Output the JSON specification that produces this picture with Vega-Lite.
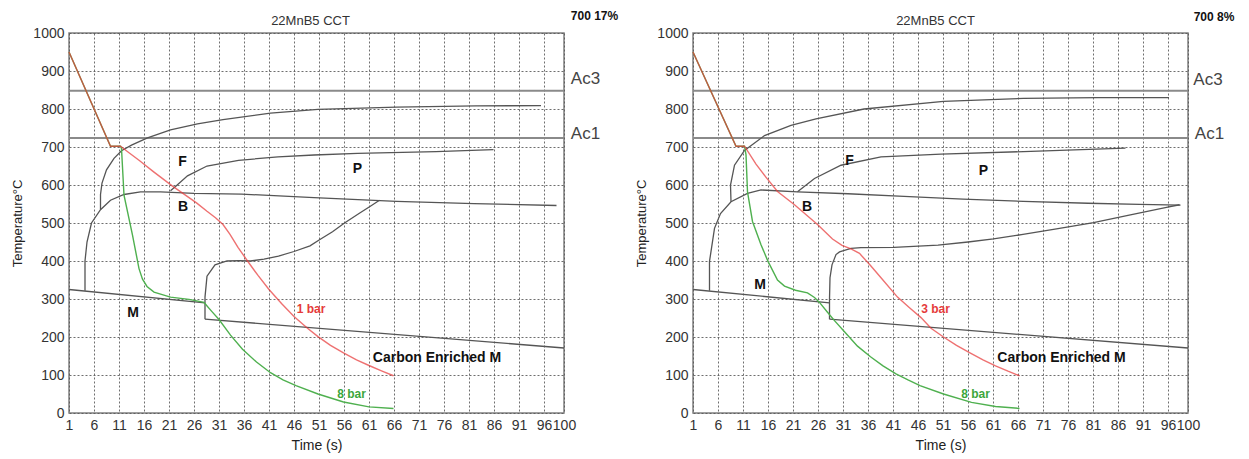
{
"$schema": "https://vega.github.io/schema/vega-lite/v6.json",
"padding": {"left": 11, "top": 9, "right": 5, "bottom": 3},
"bounds": "flush",
"spacing": 129,
"config": {
  "font": "Liberation Sans",
  "view": {"stroke": "#808080", "strokeWidth": 1.5},
  "axis": {"grid": true, "gridColor": "#555", "gridDash": [2, 2], "gridWidth": 1, "gridOpacity": 0.85, "ticks": false, "tickSize": 0, "domain": false, "labelFontSize": 14, "labelColor": "#333", "labelPadding": 5, "labelOverlap": false, "labelFlush": false, "titleFontSize": 14, "titleFontWeight": "normal", "titleColor": "#222"}
},
"datasets": {
"lines": [
{"p":"L","s":"ac3","c":"a","i":0,"x":1,"y":848},{"p":"L","s":"ac3","c":"a","i":1,"x":100,"y":848},
{"p":"L","s":"ac1","c":"a","i":0,"x":1,"y":724},{"p":"L","s":"ac1","c":"a","i":1,"x":100,"y":724},
{"p":"R","s":"ac3","c":"a","i":0,"x":1,"y":848},{"p":"R","s":"ac3","c":"a","i":1,"x":100,"y":848},
{"p":"R","s":"ac1","c":"a","i":0,"x":1,"y":724},{"p":"R","s":"ac1","c":"a","i":1,"x":100,"y":724},

{"p":"L","s":"fs","c":"k","i":0,"x":7.3,"y":536},{"p":"L","s":"fs","c":"k","i":1,"x":7.3,"y":575},{"p":"L","s":"fs","c":"k","i":2,"x":7.6,"y":605},{"p":"L","s":"fs","c":"k","i":3,"x":8.5,"y":640},{"p":"L","s":"fs","c":"k","i":4,"x":10,"y":670},{"p":"L","s":"fs","c":"k","i":5,"x":11.5,"y":690},{"p":"L","s":"fs","c":"k","i":6,"x":13.5,"y":705},{"p":"L","s":"fs","c":"k","i":7,"x":16.7,"y":724},{"p":"L","s":"fs","c":"k","i":8,"x":21.3,"y":745},{"p":"L","s":"fs","c":"k","i":9,"x":26.7,"y":761},{"p":"L","s":"fs","c":"k","i":10,"x":31.8,"y":772},{"p":"L","s":"fs","c":"k","i":11,"x":41.3,"y":789},{"p":"L","s":"fs","c":"k","i":12,"x":50.8,"y":799},{"p":"L","s":"fs","c":"k","i":13,"x":66.5,"y":805},{"p":"L","s":"fs","c":"k","i":14,"x":82.4,"y":808},{"p":"L","s":"fs","c":"k","i":15,"x":95.4,"y":809},

{"p":"L","s":"bs","c":"k","i":0,"x":4.2,"y":322},{"p":"L","s":"bs","c":"k","i":1,"x":4.2,"y":400},{"p":"L","s":"bs","c":"k","i":2,"x":4.6,"y":450},{"p":"L","s":"bs","c":"k","i":3,"x":5.5,"y":500},{"p":"L","s":"bs","c":"k","i":4,"x":7.3,"y":535},{"p":"L","s":"bs","c":"k","i":5,"x":9.3,"y":560},{"p":"L","s":"bs","c":"k","i":6,"x":12,"y":575},{"p":"L","s":"bs","c":"k","i":7,"x":15.3,"y":582},{"p":"L","s":"bs","c":"k","i":8,"x":19.3,"y":582},{"p":"L","s":"bs","c":"k","i":9,"x":26,"y":578},{"p":"L","s":"bs","c":"k","i":10,"x":35.5,"y":576},{"p":"L","s":"bs","c":"k","i":11,"x":50,"y":567},{"p":"L","s":"bs","c":"k","i":12,"x":66.5,"y":557},{"p":"L","s":"bs","c":"k","i":13,"x":82,"y":551},{"p":"L","s":"bs","c":"k","i":14,"x":98.5,"y":546},

{"p":"L","s":"ps","c":"k","i":0,"x":21.3,"y":585},{"p":"L","s":"ps","c":"k","i":1,"x":22.3,"y":596},{"p":"L","s":"ps","c":"k","i":2,"x":24.7,"y":624},{"p":"L","s":"ps","c":"k","i":3,"x":28.6,"y":650},{"p":"L","s":"ps","c":"k","i":4,"x":34.9,"y":665},{"p":"L","s":"ps","c":"k","i":5,"x":42.8,"y":674},{"p":"L","s":"ps","c":"k","i":6,"x":50,"y":679},{"p":"L","s":"ps","c":"k","i":7,"x":58.7,"y":683},{"p":"L","s":"ps","c":"k","i":8,"x":74.4,"y":688},{"p":"L","s":"ps","c":"k","i":9,"x":85.9,"y":693},

{"p":"L","s":"bl","c":"k","i":0,"x":28.2,"y":247},{"p":"L","s":"bl","c":"k","i":1,"x":28.2,"y":305},{"p":"L","s":"bl","c":"k","i":2,"x":28.6,"y":360},{"p":"L","s":"bl","c":"k","i":3,"x":30.2,"y":390},{"p":"L","s":"bl","c":"k","i":4,"x":32.6,"y":400},{"p":"L","s":"bl","c":"k","i":5,"x":35,"y":401},{"p":"L","s":"bl","c":"k","i":6,"x":37.3,"y":400},{"p":"L","s":"bl","c":"k","i":7,"x":40,"y":405},{"p":"L","s":"bl","c":"k","i":8,"x":42.9,"y":413},{"p":"L","s":"bl","c":"k","i":9,"x":46,"y":425},{"p":"L","s":"bl","c":"k","i":10,"x":49.2,"y":440},{"p":"L","s":"bl","c":"k","i":11,"x":51.1,"y":456},{"p":"L","s":"bl","c":"k","i":12,"x":53.7,"y":477},{"p":"L","s":"bl","c":"k","i":13,"x":56.1,"y":500},{"p":"L","s":"bl","c":"k","i":14,"x":59,"y":525},{"p":"L","s":"bl","c":"k","i":15,"x":61.5,"y":546},{"p":"L","s":"bl","c":"k","i":16,"x":63.1,"y":560},

{"p":"L","s":"m","c":"k","i":0,"x":1,"y":325},{"p":"L","s":"m","c":"k","i":1,"x":28.2,"y":290},
{"p":"L","s":"cem","c":"k","i":0,"x":28.2,"y":247},{"p":"L","s":"cem","c":"k","i":1,"x":100,"y":171},

{"p":"L","s":"g8","c":"g","i":0,"x":1,"y":950},{"p":"L","s":"g8","c":"g","i":1,"x":9.3,"y":702},{"p":"L","s":"g8","c":"g","i":2,"x":11.3,"y":702},{"p":"L","s":"g8","c":"g","i":3,"x":11.5,"y":696},{"p":"L","s":"g8","c":"g","i":4,"x":12,"y":573},{"p":"L","s":"g8","c":"g","i":5,"x":13.7,"y":468},{"p":"L","s":"g8","c":"g","i":6,"x":15,"y":380},{"p":"L","s":"g8","c":"g","i":7,"x":15.7,"y":352},{"p":"L","s":"g8","c":"g","i":8,"x":16.6,"y":333},{"p":"L","s":"g8","c":"g","i":9,"x":18,"y":318},{"p":"L","s":"g8","c":"g","i":10,"x":21.3,"y":305},{"p":"L","s":"g8","c":"g","i":11,"x":25,"y":299},{"p":"L","s":"g8","c":"g","i":12,"x":28,"y":291},{"p":"L","s":"g8","c":"g","i":13,"x":29.5,"y":268},{"p":"L","s":"g8","c":"g","i":14,"x":31,"y":246},{"p":"L","s":"g8","c":"g","i":15,"x":33.3,"y":205},{"p":"L","s":"g8","c":"g","i":16,"x":35.7,"y":168},{"p":"L","s":"g8","c":"g","i":17,"x":38.5,"y":134},{"p":"L","s":"g8","c":"g","i":18,"x":41.3,"y":106},{"p":"L","s":"g8","c":"g","i":19,"x":43.8,"y":87},{"p":"L","s":"g8","c":"g","i":20,"x":46.4,"y":72},{"p":"L","s":"g8","c":"g","i":21,"x":50.8,"y":50},{"p":"L","s":"g8","c":"g","i":22,"x":55.9,"y":29},{"p":"L","s":"g8","c":"g","i":23,"x":61,"y":16},{"p":"L","s":"g8","c":"g","i":24,"x":65.9,"y":12},

{"p":"L","s":"r","c":"r","i":0,"x":1,"y":950},{"p":"L","s":"r","c":"r","i":1,"x":9.3,"y":702},{"p":"L","s":"r","c":"r","i":2,"x":11.3,"y":702},{"p":"L","s":"r","c":"r","i":3,"x":12.8,"y":687},{"p":"L","s":"r","c":"r","i":4,"x":15,"y":665},{"p":"L","s":"r","c":"r","i":5,"x":18,"y":634},{"p":"L","s":"r","c":"r","i":6,"x":21.7,"y":597},{"p":"L","s":"r","c":"r","i":7,"x":24,"y":576},{"p":"L","s":"r","c":"r","i":8,"x":26.5,"y":553},{"p":"L","s":"r","c":"r","i":9,"x":28.6,"y":531},{"p":"L","s":"r","c":"r","i":10,"x":30.3,"y":514},{"p":"L","s":"r","c":"r","i":11,"x":31.8,"y":496},{"p":"L","s":"r","c":"r","i":12,"x":33.2,"y":470},{"p":"L","s":"r","c":"r","i":13,"x":34.8,"y":436},{"p":"L","s":"r","c":"r","i":14,"x":36.7,"y":400},{"p":"L","s":"r","c":"r","i":15,"x":38.8,"y":362},{"p":"L","s":"r","c":"r","i":16,"x":41,"y":325},{"p":"L","s":"r","c":"r","i":17,"x":43.5,"y":288},{"p":"L","s":"r","c":"r","i":18,"x":46,"y":254},{"p":"L","s":"r","c":"r","i":19,"x":48.7,"y":223},{"p":"L","s":"r","c":"r","i":20,"x":50.8,"y":201},{"p":"L","s":"r","c":"r","i":21,"x":53.3,"y":178},{"p":"L","s":"r","c":"r","i":22,"x":55.9,"y":158},{"p":"L","s":"r","c":"r","i":23,"x":58.5,"y":140},{"p":"L","s":"r","c":"r","i":24,"x":61,"y":125},{"p":"L","s":"r","c":"r","i":25,"x":63.5,"y":111},{"p":"L","s":"r","c":"r","i":26,"x":65.9,"y":98},

{"p":"R","s":"fs","c":"k","i":0,"x":8.6,"y":556},{"p":"R","s":"fs","c":"k","i":1,"x":8.5,"y":600},{"p":"R","s":"fs","c":"k","i":2,"x":9.3,"y":652},{"p":"R","s":"fs","c":"k","i":3,"x":11.3,"y":691},{"p":"R","s":"fs","c":"k","i":4,"x":15.3,"y":730},{"p":"R","s":"fs","c":"k","i":5,"x":20.6,"y":757},{"p":"R","s":"fs","c":"k","i":6,"x":25.6,"y":774},{"p":"R","s":"fs","c":"k","i":7,"x":35.2,"y":800},{"p":"R","s":"fs","c":"k","i":8,"x":51.1,"y":820},{"p":"R","s":"fs","c":"k","i":9,"x":67.1,"y":828},{"p":"R","s":"fs","c":"k","i":10,"x":82,"y":830},{"p":"R","s":"fs","c":"k","i":11,"x":96.2,"y":830},

{"p":"R","s":"bs","c":"k","i":0,"x":4.3,"y":322},{"p":"R","s":"bs","c":"k","i":1,"x":4.3,"y":399},{"p":"R","s":"bs","c":"k","i":2,"x":5.3,"y":486},{"p":"R","s":"bs","c":"k","i":3,"x":6.5,"y":525},{"p":"R","s":"bs","c":"k","i":4,"x":8.6,"y":556},{"p":"R","s":"bs","c":"k","i":5,"x":11.9,"y":578},{"p":"R","s":"bs","c":"k","i":6,"x":14.6,"y":587},{"p":"R","s":"bs","c":"k","i":7,"x":21.9,"y":582},{"p":"R","s":"bs","c":"k","i":8,"x":32,"y":577},{"p":"R","s":"bs","c":"k","i":9,"x":43.2,"y":570},{"p":"R","s":"bs","c":"k","i":10,"x":55,"y":563},{"p":"R","s":"bs","c":"k","i":11,"x":67.1,"y":557},{"p":"R","s":"bs","c":"k","i":12,"x":80,"y":552},{"p":"R","s":"bs","c":"k","i":13,"x":90.3,"y":549},{"p":"R","s":"bs","c":"k","i":14,"x":98.5,"y":547},

{"p":"R","s":"ps","c":"k","i":0,"x":21.9,"y":582},{"p":"R","s":"ps","c":"k","i":1,"x":25.3,"y":617},{"p":"R","s":"ps","c":"k","i":2,"x":30.6,"y":652},{"p":"R","s":"ps","c":"k","i":3,"x":38.6,"y":674},{"p":"R","s":"ps","c":"k","i":4,"x":50.6,"y":681},{"p":"R","s":"ps","c":"k","i":5,"x":67.1,"y":688},{"p":"R","s":"ps","c":"k","i":6,"x":87.5,"y":697},

{"p":"R","s":"bl","c":"k","i":0,"x":28.3,"y":247},{"p":"R","s":"bl","c":"k","i":1,"x":28.3,"y":300},{"p":"R","s":"bl","c":"k","i":2,"x":28.4,"y":356},{"p":"R","s":"bl","c":"k","i":3,"x":28.8,"y":390},{"p":"R","s":"bl","c":"k","i":4,"x":29.6,"y":417},{"p":"R","s":"bl","c":"k","i":5,"x":30.3,"y":424},{"p":"R","s":"bl","c":"k","i":6,"x":32.6,"y":433},{"p":"R","s":"bl","c":"k","i":7,"x":34.6,"y":435},{"p":"R","s":"bl","c":"k","i":8,"x":41.2,"y":436},{"p":"R","s":"bl","c":"k","i":9,"x":50,"y":442},{"p":"R","s":"bl","c":"k","i":10,"x":56,"y":450},{"p":"R","s":"bl","c":"k","i":11,"x":61.1,"y":458},{"p":"R","s":"bl","c":"k","i":12,"x":67,"y":470},{"p":"R","s":"bl","c":"k","i":13,"x":74,"y":485},{"p":"R","s":"bl","c":"k","i":14,"x":81.1,"y":501},{"p":"R","s":"bl","c":"k","i":15,"x":88,"y":520},{"p":"R","s":"bl","c":"k","i":16,"x":95.7,"y":541},{"p":"R","s":"bl","c":"k","i":17,"x":98.3,"y":548},

{"p":"R","s":"m","c":"k","i":0,"x":1,"y":325},{"p":"R","s":"m","c":"k","i":1,"x":28.3,"y":290},
{"p":"R","s":"cem","c":"k","i":0,"x":28.3,"y":247},{"p":"R","s":"cem","c":"k","i":1,"x":100,"y":171},

{"p":"R","s":"g8","c":"g","i":0,"x":1,"y":950},{"p":"R","s":"g8","c":"g","i":1,"x":9.6,"y":702},{"p":"R","s":"g8","c":"g","i":2,"x":11.3,"y":702},{"p":"R","s":"g8","c":"g","i":3,"x":11.6,"y":680},{"p":"R","s":"g8","c":"g","i":4,"x":11.9,"y":582},{"p":"R","s":"g8","c":"g","i":5,"x":12.9,"y":504},{"p":"R","s":"g8","c":"g","i":6,"x":14.6,"y":443},{"p":"R","s":"g8","c":"g","i":7,"x":16,"y":399},{"p":"R","s":"g8","c":"g","i":8,"x":17.9,"y":350},{"p":"R","s":"g8","c":"g","i":9,"x":19.3,"y":334},{"p":"R","s":"g8","c":"g","i":10,"x":21.5,"y":323},{"p":"R","s":"g8","c":"g","i":11,"x":23.9,"y":316},{"p":"R","s":"g8","c":"g","i":12,"x":25.3,"y":304},{"p":"R","s":"g8","c":"g","i":13,"x":26.3,"y":291},{"p":"R","s":"g8","c":"g","i":14,"x":27.9,"y":265},{"p":"R","s":"g8","c":"g","i":15,"x":29.3,"y":243},{"p":"R","s":"g8","c":"g","i":16,"x":31.3,"y":214},{"p":"R","s":"g8","c":"g","i":17,"x":33.9,"y":176},{"p":"R","s":"g8","c":"g","i":18,"x":36.5,"y":148},{"p":"R","s":"g8","c":"g","i":19,"x":39,"y":124},{"p":"R","s":"g8","c":"g","i":20,"x":41.6,"y":103},{"p":"R","s":"g8","c":"g","i":21,"x":44,"y":87},{"p":"R","s":"g8","c":"g","i":22,"x":46.4,"y":72},{"p":"R","s":"g8","c":"g","i":23,"x":51.1,"y":50},{"p":"R","s":"g8","c":"g","i":24,"x":56.7,"y":28},{"p":"R","s":"g8","c":"g","i":25,"x":61.5,"y":17},{"p":"R","s":"g8","c":"g","i":26,"x":66.3,"y":12},

{"p":"R","s":"r","c":"r","i":0,"x":1,"y":950},{"p":"R","s":"r","c":"r","i":1,"x":9.6,"y":702},{"p":"R","s":"r","c":"r","i":2,"x":11.3,"y":702},{"p":"R","s":"r","c":"r","i":3,"x":13.6,"y":655},{"p":"R","s":"r","c":"r","i":4,"x":15.5,"y":622},{"p":"R","s":"r","c":"r","i":5,"x":17.9,"y":583},{"p":"R","s":"r","c":"r","i":6,"x":21.3,"y":548},{"p":"R","s":"r","c":"r","i":7,"x":25.9,"y":496},{"p":"R","s":"r","c":"r","i":8,"x":28.9,"y":458},{"p":"R","s":"r","c":"r","i":9,"x":30.8,"y":441},{"p":"R","s":"r","c":"r","i":10,"x":32.6,"y":432},{"p":"R","s":"r","c":"r","i":11,"x":34.3,"y":420},{"p":"R","s":"r","c":"r","i":12,"x":36.5,"y":388},{"p":"R","s":"r","c":"r","i":13,"x":38.6,"y":356},{"p":"R","s":"r","c":"r","i":14,"x":41.9,"y":305},{"p":"R","s":"r","c":"r","i":15,"x":44.3,"y":277},{"p":"R","s":"r","c":"r","i":16,"x":46.6,"y":251},{"p":"R","s":"r","c":"r","i":17,"x":48.6,"y":223},{"p":"R","s":"r","c":"r","i":18,"x":51.1,"y":200},{"p":"R","s":"r","c":"r","i":19,"x":53.7,"y":178},{"p":"R","s":"r","c":"r","i":20,"x":56.3,"y":159},{"p":"R","s":"r","c":"r","i":21,"x":59,"y":140},{"p":"R","s":"r","c":"r","i":22,"x":61.5,"y":124},{"p":"R","s":"r","c":"r","i":23,"x":64,"y":110},{"p":"R","s":"r","c":"r","i":24,"x":66.3,"y":98}
],
"labels": [
{"p":"L","k":"title","t":"22MnB5 CCT","x":49.3,"y":1031},
{"p":"L","k":"ph","t":"F","x":23.7,"y":660},
{"p":"L","k":"ph","t":"B","x":23.8,"y":542},
{"p":"L","k":"ph","t":"M","x":13.8,"y":264},
{"p":"L","k":"ph","t":"P","x":58.7,"y":641},
{"p":"L","k":"ph","t":"Carbon Enriched M","x":74.6,"y":146},
{"p":"L","k":"r","t":"1 bar","x":49.4,"y":273},
{"p":"L","k":"g","t":"8 bar","x":57.5,"y":50},
{"p":"L","k":"ac","t":"Ac3","x":104.3,"y":878},
{"p":"L","k":"ac","t":"Ac1","x":104.3,"y":735},
{"p":"L","k":"note","t":"700 17%","x":106.1,"y":1044},
{"p":"R","k":"title","t":"22MnB5 CCT","x":49.5,"y":1031},
{"p":"R","k":"ph","t":"F","x":32.3,"y":662},
{"p":"R","k":"ph","t":"B","x":23.8,"y":543},
{"p":"R","k":"ph","t":"M","x":14.4,"y":336},
{"p":"R","k":"ph","t":"P","x":59.1,"y":636},
{"p":"R","k":"ph","t":"Carbon Enriched M","x":74.7,"y":146},
{"p":"R","k":"r","t":"3 bar","x":49.5,"y":273},
{"p":"R","k":"g","t":"8 bar","x":57.5,"y":50},
{"p":"R","k":"ac","t":"Ac3","x":104,"y":876},
{"p":"R","k":"ac","t":"Ac1","x":104.3,"y":735},
{"p":"R","k":"note","t":"700 8%","x":105.2,"y":1041}
]
},
"hconcat": [
{
 "width": 495, "height": 380,
 "encoding": {
   "x": {"field": "x", "type": "quantitative", "scale": {"domain": [1, 100], "nice": false, "zero": false}, "axis": {"title": "Time (s)", "values": [1,6,11,16,21,26,31,36,41,46,51,56,61,66,71,76,81,86,91,96,100], "format": "d", "titlePadding": 6}},
   "y": {"field": "y", "type": "quantitative", "scale": {"domain": [0, 1000], "nice": false}, "axis": {"title": "Temperature°C", "values": [0,100,200,300,400,500,600,700,800,900,1000], "format": "d", "titleFontSize": 13, "titlePadding": 8}}
 },
 "layer": [
  {"data": {"name": "lines"}, "transform": [{"filter": "datum.p == 'L' && datum.c == 'a'"}], "mark": {"type": "line", "color": "#8a8a8a", "strokeWidth": 2}, "encoding": {"detail": {"field": "s"}, "order": {"field": "i", "type": "quantitative"}}},
  {"data": {"name": "lines"}, "transform": [{"filter": "datum.p == 'L' && datum.c == 'k'"}], "mark": {"type": "line", "color": "#555", "strokeWidth": 1.3}, "encoding": {"detail": {"field": "s"}, "order": {"field": "i", "type": "quantitative"}}},
  {"data": {"name": "lines"}, "transform": [{"filter": "datum.p == 'L' && datum.c == 'g'"}], "mark": {"type": "line", "color": "#4fb04f", "strokeWidth": 1.4}, "encoding": {"detail": {"field": "s"}, "order": {"field": "i", "type": "quantitative"}}},
  {"data": {"name": "lines"}, "transform": [{"filter": "datum.p == 'L' && datum.c == 'r'"}], "mark": {"type": "line", "color": "#e83a3a", "strokeWidth": 1.4, "opacity": 0.72}, "encoding": {"detail": {"field": "s"}, "order": {"field": "i", "type": "quantitative"}}},
  {"data": {"name": "labels"}, "transform": [{"filter": "datum.p == 'L' && datum.k == 'title'"}], "mark": {"type": "text", "fontSize": 13, "color": "#333", "align": "center", "baseline": "middle"}, "encoding": {"text": {"field": "t"}}},
  {"data": {"name": "labels"}, "transform": [{"filter": "datum.p == 'L' && datum.k == 'ph'"}], "mark": {"type": "text", "fontSize": 14, "fontWeight": "bold", "color": "#111", "align": "center", "baseline": "middle"}, "encoding": {"text": {"field": "t"}}},
  {"data": {"name": "labels"}, "transform": [{"filter": "datum.p == 'L' && datum.k == 'r'"}], "mark": {"type": "text", "fontSize": 12, "fontWeight": "bold", "color": "#e53b3b", "align": "center", "baseline": "middle"}, "encoding": {"text": {"field": "t"}}},
  {"data": {"name": "labels"}, "transform": [{"filter": "datum.p == 'L' && datum.k == 'g'"}], "mark": {"type": "text", "fontSize": 12, "fontWeight": "bold", "color": "#3ca63c", "align": "center", "baseline": "middle"}, "encoding": {"text": {"field": "t"}}},
  {"data": {"name": "labels"}, "transform": [{"filter": "datum.p == 'L' && datum.k == 'ac'"}], "mark": {"type": "text", "fontSize": 17, "color": "#444", "align": "center", "baseline": "middle"}, "encoding": {"text": {"field": "t"}}},
  {"data": {"name": "labels"}, "transform": [{"filter": "datum.p == 'L' && datum.k == 'note'"}], "mark": {"type": "text", "fontSize": 12, "fontWeight": "bold", "color": "#111", "align": "center", "baseline": "middle"}, "encoding": {"text": {"field": "t"}}}
 ]
},
{
 "width": 495, "height": 380,
 "encoding": {
   "x": {"field": "x", "type": "quantitative", "scale": {"domain": [1, 100], "nice": false, "zero": false}, "axis": {"title": "Time (s)", "values": [1,6,11,16,21,26,31,36,41,46,51,56,61,66,71,76,81,86,91,96,100], "format": "d", "titlePadding": 6}},
   "y": {"field": "y", "type": "quantitative", "scale": {"domain": [0, 1000], "nice": false}, "axis": {"title": "Temperature°C", "values": [0,100,200,300,400,500,600,700,800,900,1000], "format": "d", "titleFontSize": 13, "titlePadding": 8}}
 },
 "layer": [
  {"data": {"name": "lines"}, "transform": [{"filter": "datum.p == 'R' && datum.c == 'a'"}], "mark": {"type": "line", "color": "#8a8a8a", "strokeWidth": 2}, "encoding": {"detail": {"field": "s"}, "order": {"field": "i", "type": "quantitative"}}},
  {"data": {"name": "lines"}, "transform": [{"filter": "datum.p == 'R' && datum.c == 'k'"}], "mark": {"type": "line", "color": "#555", "strokeWidth": 1.3}, "encoding": {"detail": {"field": "s"}, "order": {"field": "i", "type": "quantitative"}}},
  {"data": {"name": "lines"}, "transform": [{"filter": "datum.p == 'R' && datum.c == 'g'"}], "mark": {"type": "line", "color": "#4fb04f", "strokeWidth": 1.4}, "encoding": {"detail": {"field": "s"}, "order": {"field": "i", "type": "quantitative"}}},
  {"data": {"name": "lines"}, "transform": [{"filter": "datum.p == 'R' && datum.c == 'r'"}], "mark": {"type": "line", "color": "#e83a3a", "strokeWidth": 1.4, "opacity": 0.72}, "encoding": {"detail": {"field": "s"}, "order": {"field": "i", "type": "quantitative"}}},
  {"data": {"name": "labels"}, "transform": [{"filter": "datum.p == 'R' && datum.k == 'title'"}], "mark": {"type": "text", "fontSize": 13, "color": "#333", "align": "center", "baseline": "middle"}, "encoding": {"text": {"field": "t"}}},
  {"data": {"name": "labels"}, "transform": [{"filter": "datum.p == 'R' && datum.k == 'ph'"}], "mark": {"type": "text", "fontSize": 14, "fontWeight": "bold", "color": "#111", "align": "center", "baseline": "middle"}, "encoding": {"text": {"field": "t"}}},
  {"data": {"name": "labels"}, "transform": [{"filter": "datum.p == 'R' && datum.k == 'r'"}], "mark": {"type": "text", "fontSize": 12, "fontWeight": "bold", "color": "#e53b3b", "align": "center", "baseline": "middle"}, "encoding": {"text": {"field": "t"}}},
  {"data": {"name": "labels"}, "transform": [{"filter": "datum.p == 'R' && datum.k == 'g'"}], "mark": {"type": "text", "fontSize": 12, "fontWeight": "bold", "color": "#3ca63c", "align": "center", "baseline": "middle"}, "encoding": {"text": {"field": "t"}}},
  {"data": {"name": "labels"}, "transform": [{"filter": "datum.p == 'R' && datum.k == 'ac'"}], "mark": {"type": "text", "fontSize": 17, "color": "#444", "align": "center", "baseline": "middle"}, "encoding": {"text": {"field": "t"}}},
  {"data": {"name": "labels"}, "transform": [{"filter": "datum.p == 'R' && datum.k == 'note'"}], "mark": {"type": "text", "fontSize": 12, "fontWeight": "bold", "color": "#111", "align": "center", "baseline": "middle"}, "encoding": {"text": {"field": "t"}}}
 ]
}
]
}
